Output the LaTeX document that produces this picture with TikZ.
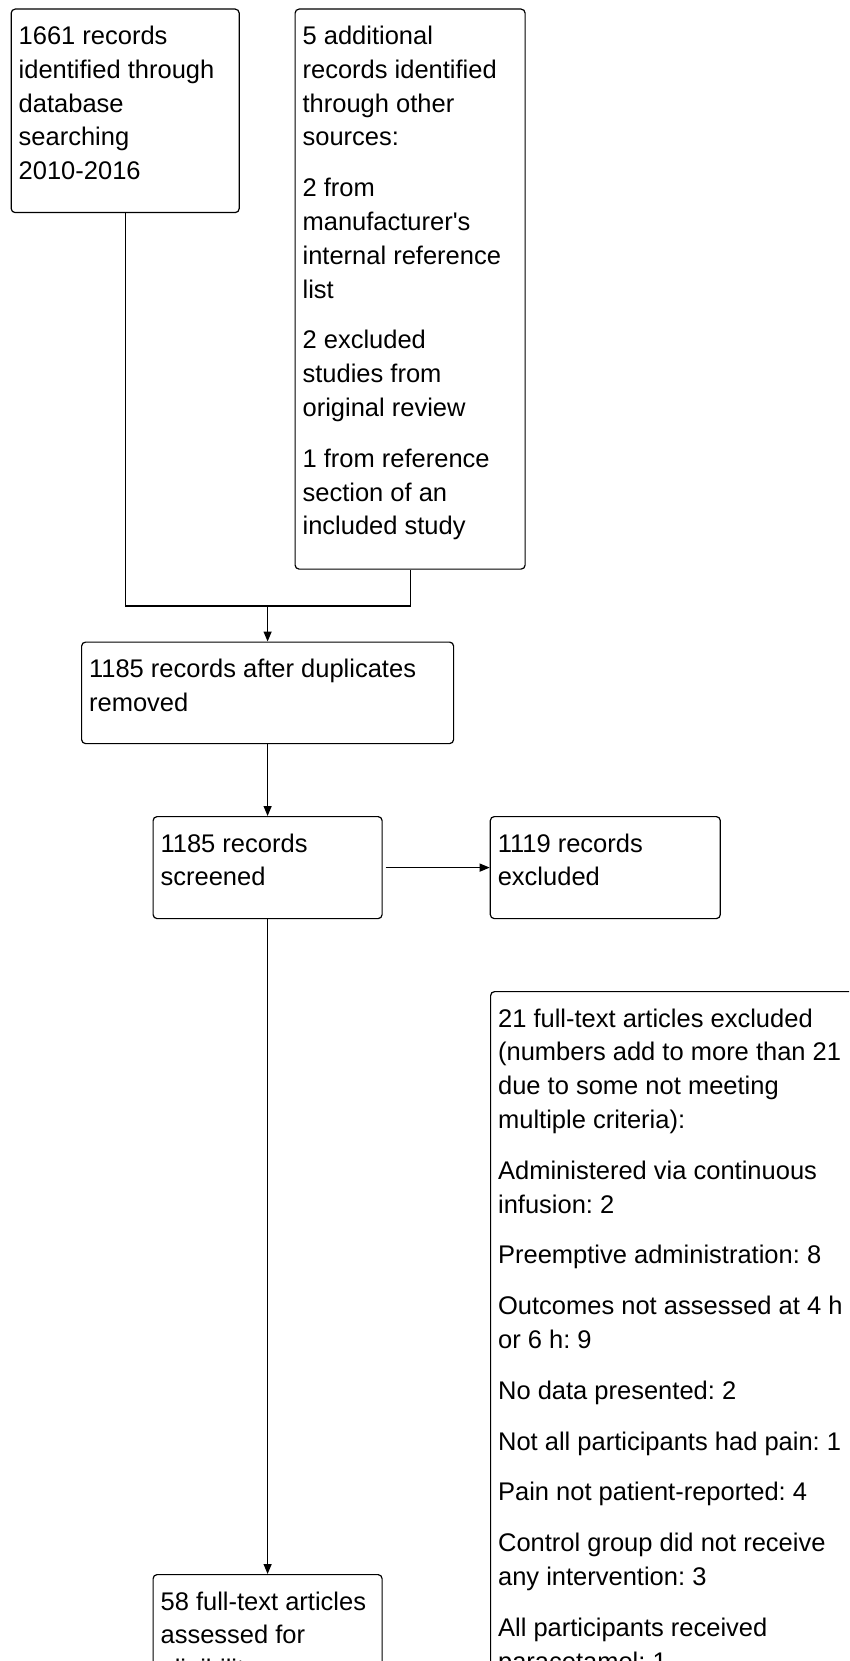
\documentclass[tikz,border=0pt]{standalone}
\usepackage{fontspec}
\setmainfont{Liberation Sans}
\usetikzlibrary{arrows.meta}
\frenchspacing

\newcommand{\celltext}[3]{\parbox[t][#2pt][t]{#1pt}{\raggedright\rule{0pt}{35.5pt}#3}}

\tikzset{
  flowbox/.style={draw, rounded corners=4pt, line width=1.2pt, anchor=north west,
    inner xsep=7.5pt, inner ysep=0pt, font=\fontsize{25.5}{33.8}\selectfont},
  link/.style={line width=1.2pt},
  arr/.style={link, -{Triangle[length=10pt,width=8pt]}}
}

\begin{document}
\begin{tikzpicture}[x=1pt,y=-1pt]
      \useasboundingbox (0,0) rectangle (849,1661);
      \clip (0,0) rectangle (849,1661);
      \node[flowbox] (dbsearch) at (10.6,8.5) {\celltext{213}{203.5}{1661 records\\identified through\\database\\searching\\2010-2016}};
      \node[flowbox] (othersrc) at (294.5,8.5) {\celltext{215}{560}{5 additional\\records identified\\through other\\sources:\\[17pt]2 from\\manufacturer\textquotesingle s\\internal reference\\list\\[17pt]2 excluded\\studies from\\original review\\[17pt]1 from reference\\section of an\\included study}};
      \node[flowbox] (dedup) at (81,641.5) {\celltext{357}{101.5}{1185 records after duplicates\\removed}};
      \node[flowbox] (screened) at (152.5,816) {\celltext{214}{102}{1185 records\\screened}};
      \node[flowbox] (excluded) at (489.7,816) {\celltext{215}{102}{1119 records\\excluded}};
      \node[flowbox] (ftexcl) at (490,991) {\celltext{400}{720}{21 full-text articles excluded\\(numbers add to more than 21\\due to some not meeting\\multiple criteria):\\[17pt]Administered via continuous\\infusion: 2\\[17pt]Preemptive administration: 8\\[17pt]Outcomes not assessed at 4 h\\or 6 h: 9\\[17pt]No data presented: 2\\[17pt]Not all participants had pain: 1\\[17pt]Pain not patient-reported: 4\\[17pt]Control group did not receive\\any intervention: 3\\[17pt]All participants received\\paracetamol: 1}};
      \node[flowbox] (fulltext) at (152.5,1574) {\celltext{214}{150}{58 full-text articles\\assessed for\\eligibility}};
      \coordinate (join) at (dedup.north |- 0,606);
      \draw[link] (dbsearch.south) |- (join) -| (othersrc.south);
      \draw[arr] (join) -- (dedup.north);
      \draw[arr] (dedup.south) -- (screened.north);
      \draw[arr] ([xshift=3pt]screened.east) -- (excluded.west);
      \draw[arr] (screened.south) -- (fulltext.north);
    \end{tikzpicture}
\end{document}
